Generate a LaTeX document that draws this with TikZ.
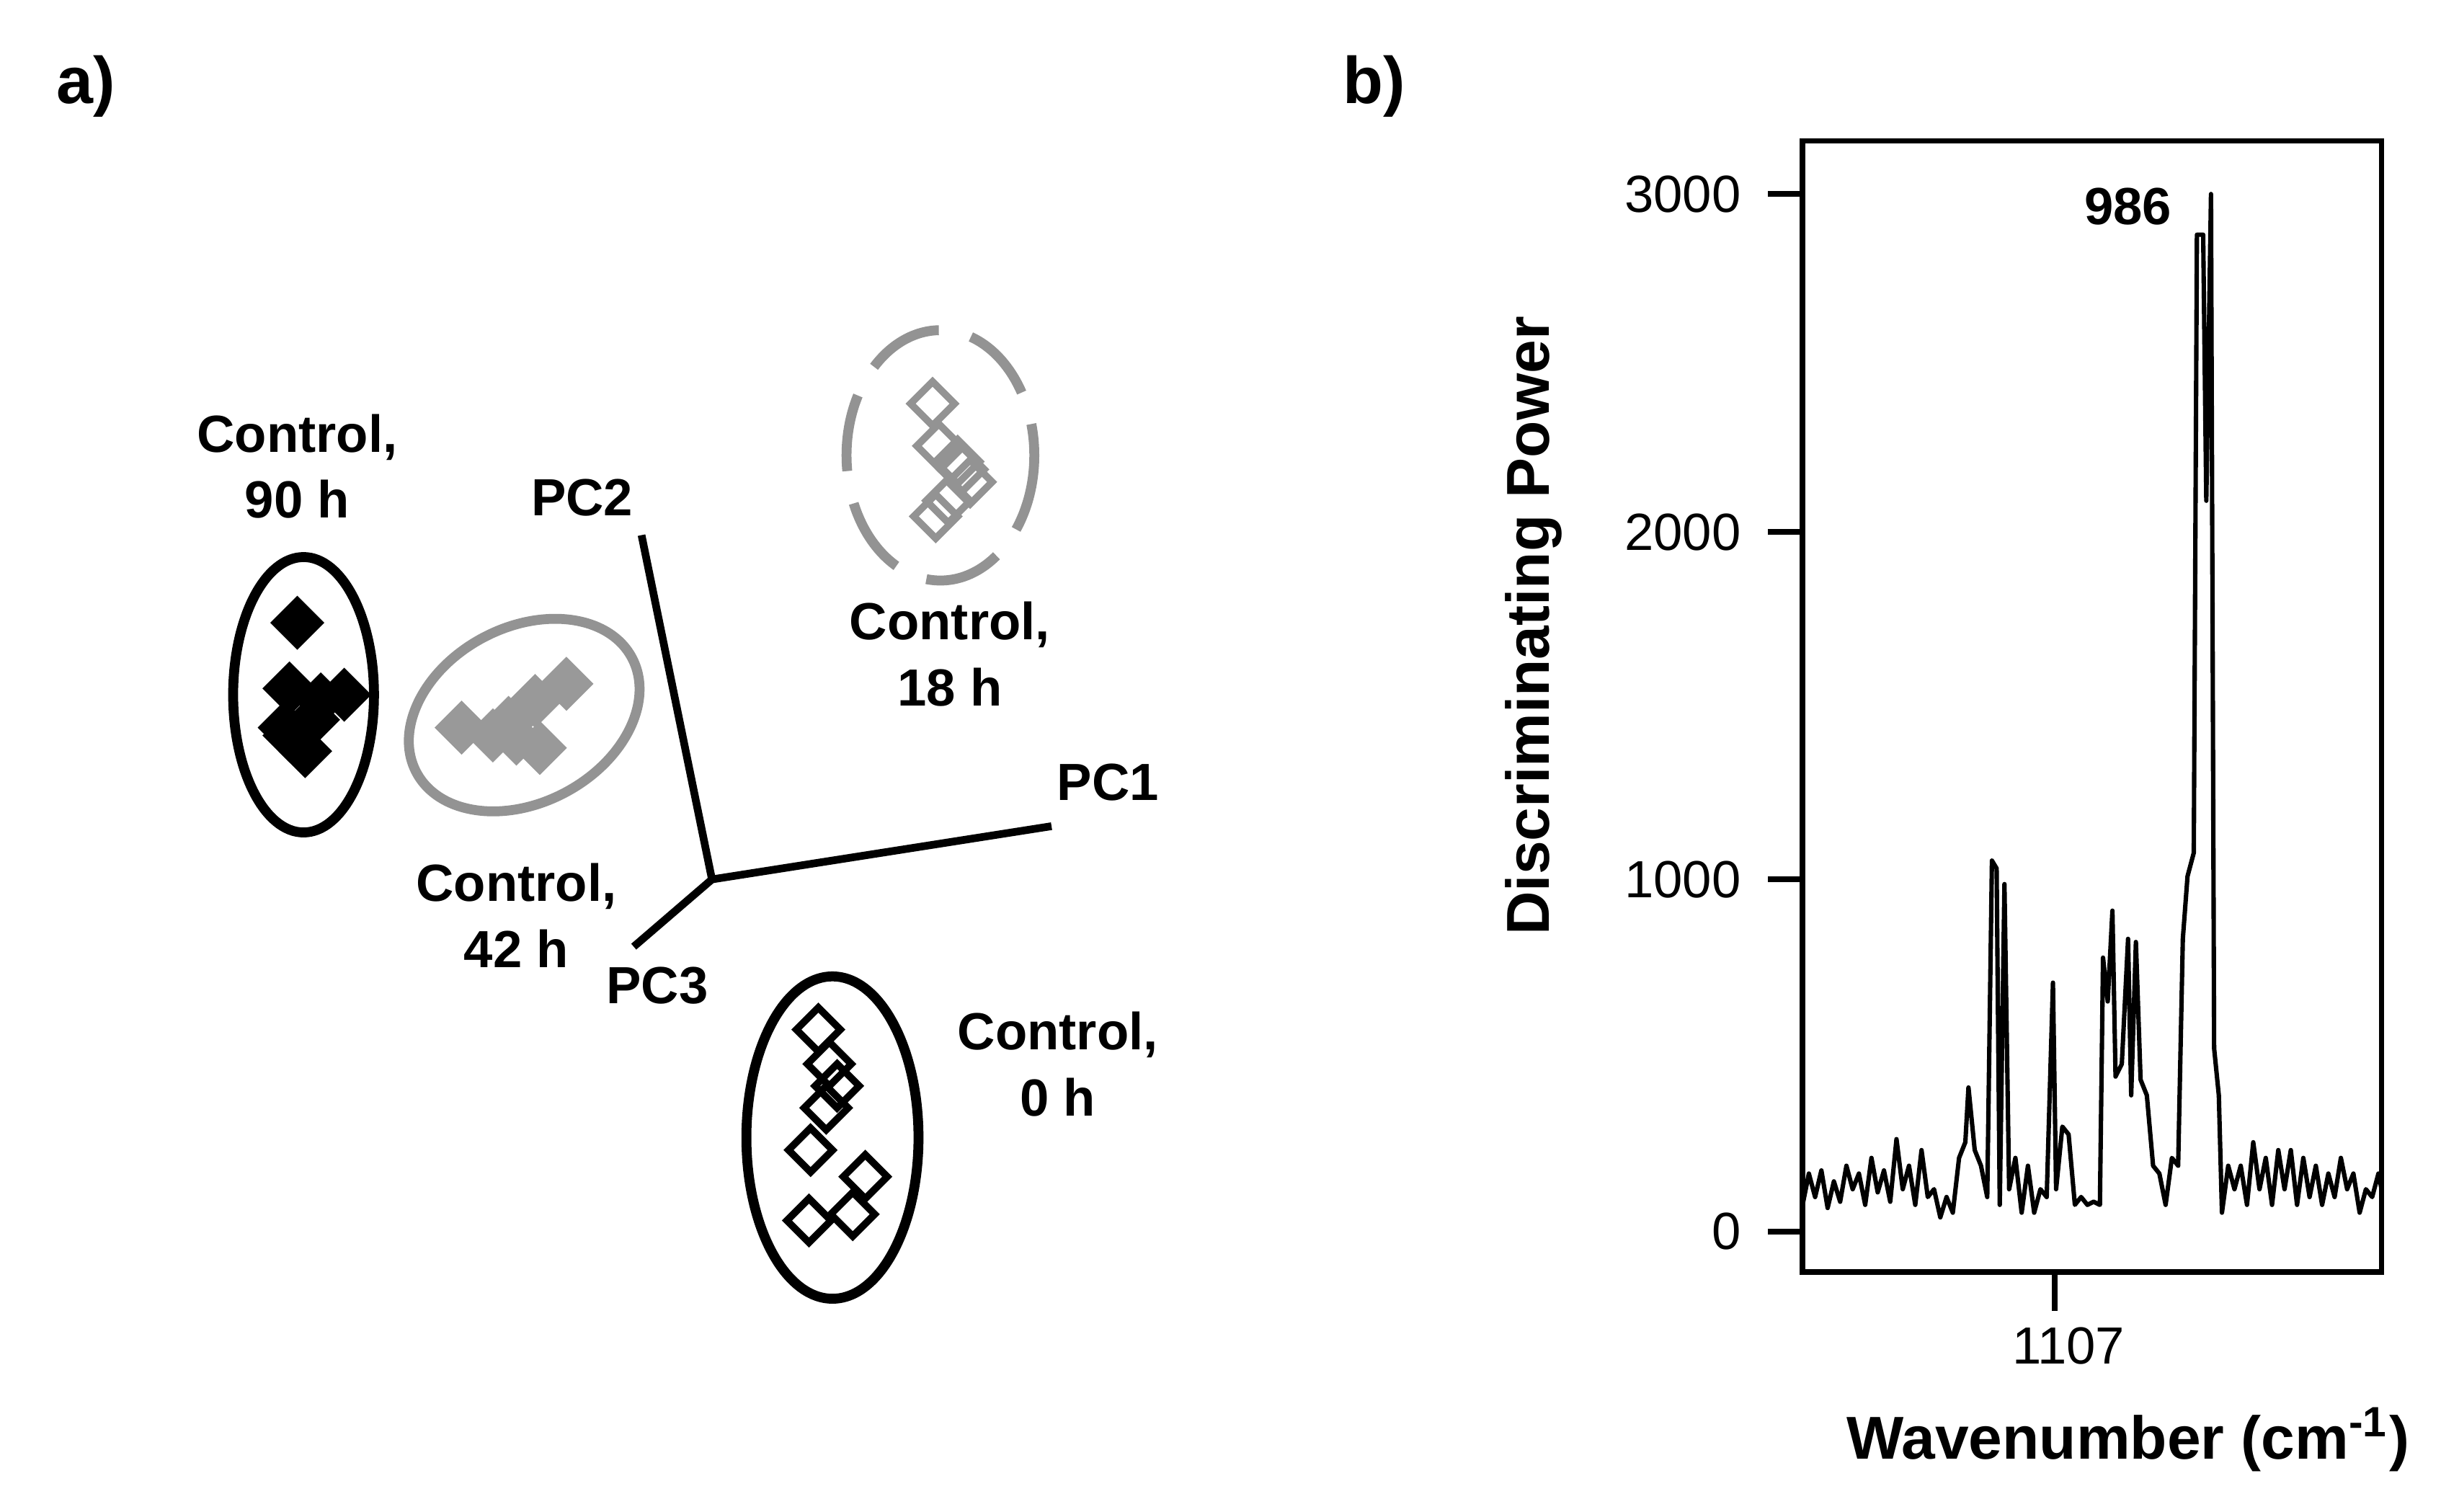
\documentclass[tikz,border=0pt]{standalone}
\usepackage{fontspec}
\setmainfont{Liberation Sans}
\usetikzlibrary{shapes.geometric}
\begin{document}
\begin{tikzpicture}[x=0.01cm,y=-0.01cm,
 lab/.style={font=\fontsize{9.5}{12}\selectfont\bfseries,align=center},
 tl/.style={font=\fontsize{9.5}{12}\selectfont},
 axis/.style={line width=1.4pt},
 ell/.style={line width=1.8pt},
 dia/.style={diamond,inner sep=0pt,minimum size=0.3cm,line width=1.3pt}]
\useasboundingbox (0,0) rectangle (1560,966);
\node[lab,font=\fontsize{12}{14}\selectfont\bfseries] (la) at (55,55) {a)};
\node[lab,font=\fontsize{12}{14}\selectfont\bfseries] (lb) at (878,55) {b)};
% axes
\coordinate (o) at (455,562);
\coordinate (p2) at (410,342);
\coordinate (p1) at (672,528);
\coordinate (p3) at (405,605);
\draw[axis] (o) -- (p2); \draw[axis] (o) -- (p1); \draw[axis] (o) -- (p3);
\node[lab] (t2) at (372,318) {PC2};
\node[lab] (t1) at (708,500) {PC1};
\node[lab] (t3) at (420,630) {PC3};
% ellipses
\draw[ell] (194,444) ellipse [x radius=45, y radius=88];
\begin{scope}[shift={(335,457)},rotate=28]
\draw[ell,gray!85] (0,0) ellipse [x radius=78, y radius=56];
\end{scope}
\draw[ell,gray!85,dashed,dash pattern=on 14pt off 6pt] (601,291) ellipse [x radius=60, y radius=80];
\draw[ell] (532,727) ellipse [x radius=55, y radius=103];
\node[lab] (c90) at (190,298) {Control,\\90 h};
\node[lab] (c42) at (330,585) {Control,\\42 h};
\node[lab] (c18) at (607,418) {Control,\\18 h};
\node[lab] (c0) at (676,680) {Control,\\0 h};
% diamonds
\foreach \p [count=\i] in {(190,398),(185,440),(205,447),(220,444),(182,465),(195,480),(185,470),(200,460)}
  \node[dia,fill=black,draw=black] (d90\i) at \p {};
\foreach \p [count=\i] in {(295,465),(325,462),(342,448),(362,437),(345,478),(330,472),(315,470)}
  \node[dia,fill=gray!80,draw=gray!80] (d42\i) at \p {};
\foreach \p [count=\i] in {(596,258),(600,285),(612,295),(620,308),(598,330),(606,320),(615,300)}
  \node[dia,draw=gray!85] (d18\i) at \p {};
\foreach \p [count=\i] in {(523,658),(530,680),(535,694),(528,708),(518,735),(553,752),(517,780),(545,776)}
  \node[dia,draw=black] (d0\i) at \p {};
% panel b
\draw[line width=1pt] (1152,90) rectangle (1522,813);
\foreach \v/\y in {3000/124,2000/340,1000/562,0/787}{
  \draw[line width=1pt] (1152,\y) -- (1130,\y);
  \node[tl,anchor=east] (y\v) at (1125,\y) {\v};}
\draw[line width=1pt] (1313,813) -- (1313,838);
\node[tl] (x1107) at (1322,860) {1107};
\node[lab,font=\fontsize{11}{13}\selectfont\bfseries] (xl) at (1360,920) {Wavenumber (cm\textsuperscript{-1})};
\node[lab,font=\fontsize{11}{13}\selectfont\bfseries,rotate=90] (yl) at (980,400) {Discriminating Power};
\node[lab] (pk) at (1360,132) {986};
\draw[line width=0.8pt,line join=round] (1152,770)--(1156,750)--(1160,765)--(1164,748)--(1168,772)--(1172,755)--(1176,768)--(1180,745)--(1184,760)--(1188,750)--(1192,770)--(1196,740)--(1200,762)--(1204,748)--(1208,768)--(1212,728)--(1216,760)--(1220,745)--(1224,770)--(1228,735)--(1232,765)--(1236,760)--(1240,778)--(1244,765)--(1248,775)--(1252,740)--(1256,730)--(1258,695)--(1262,735)--(1266,745)--(1270,765)--(1273,550)--(1276,555)--(1278,770)--(1281,565)--(1284,760)--(1288,740)--(1292,775)--(1296,745)--(1300,775)--(1304,760)--(1308,765)--(1312,628)--(1314,760)--(1318,720)--(1322,725)--(1326,770)--(1330,765)--(1334,770)--(1338,768)--(1342,770)--(1344,612)--(1347,640)--(1350,582)--(1352,688)--(1356,680)--(1360,600)--(1362,700)--(1365,602)--(1368,690)--(1372,700)--(1376,745)--(1380,750)--(1384,770)--(1388,740)--(1392,745)--(1395,600)--(1398,560)--(1402,545)--(1404,150)--(1408,150)--(1410,320)--(1413,124)--(1415,670)--(1418,700)--(1420,775)--(1424,745)--(1428,760)--(1432,745)--(1436,770)--(1440,730)--(1444,760)--(1448,740)--(1452,770)--(1456,735)--(1460,760)--(1464,735)--(1468,770)--(1472,740)--(1476,765)--(1480,745)--(1484,770)--(1488,750)--(1492,765)--(1496,740)--(1500,760)--(1504,750)--(1508,775)--(1512,760)--(1516,765)--(1520,750)--(1522,760);
\end{tikzpicture}
\end{document}
